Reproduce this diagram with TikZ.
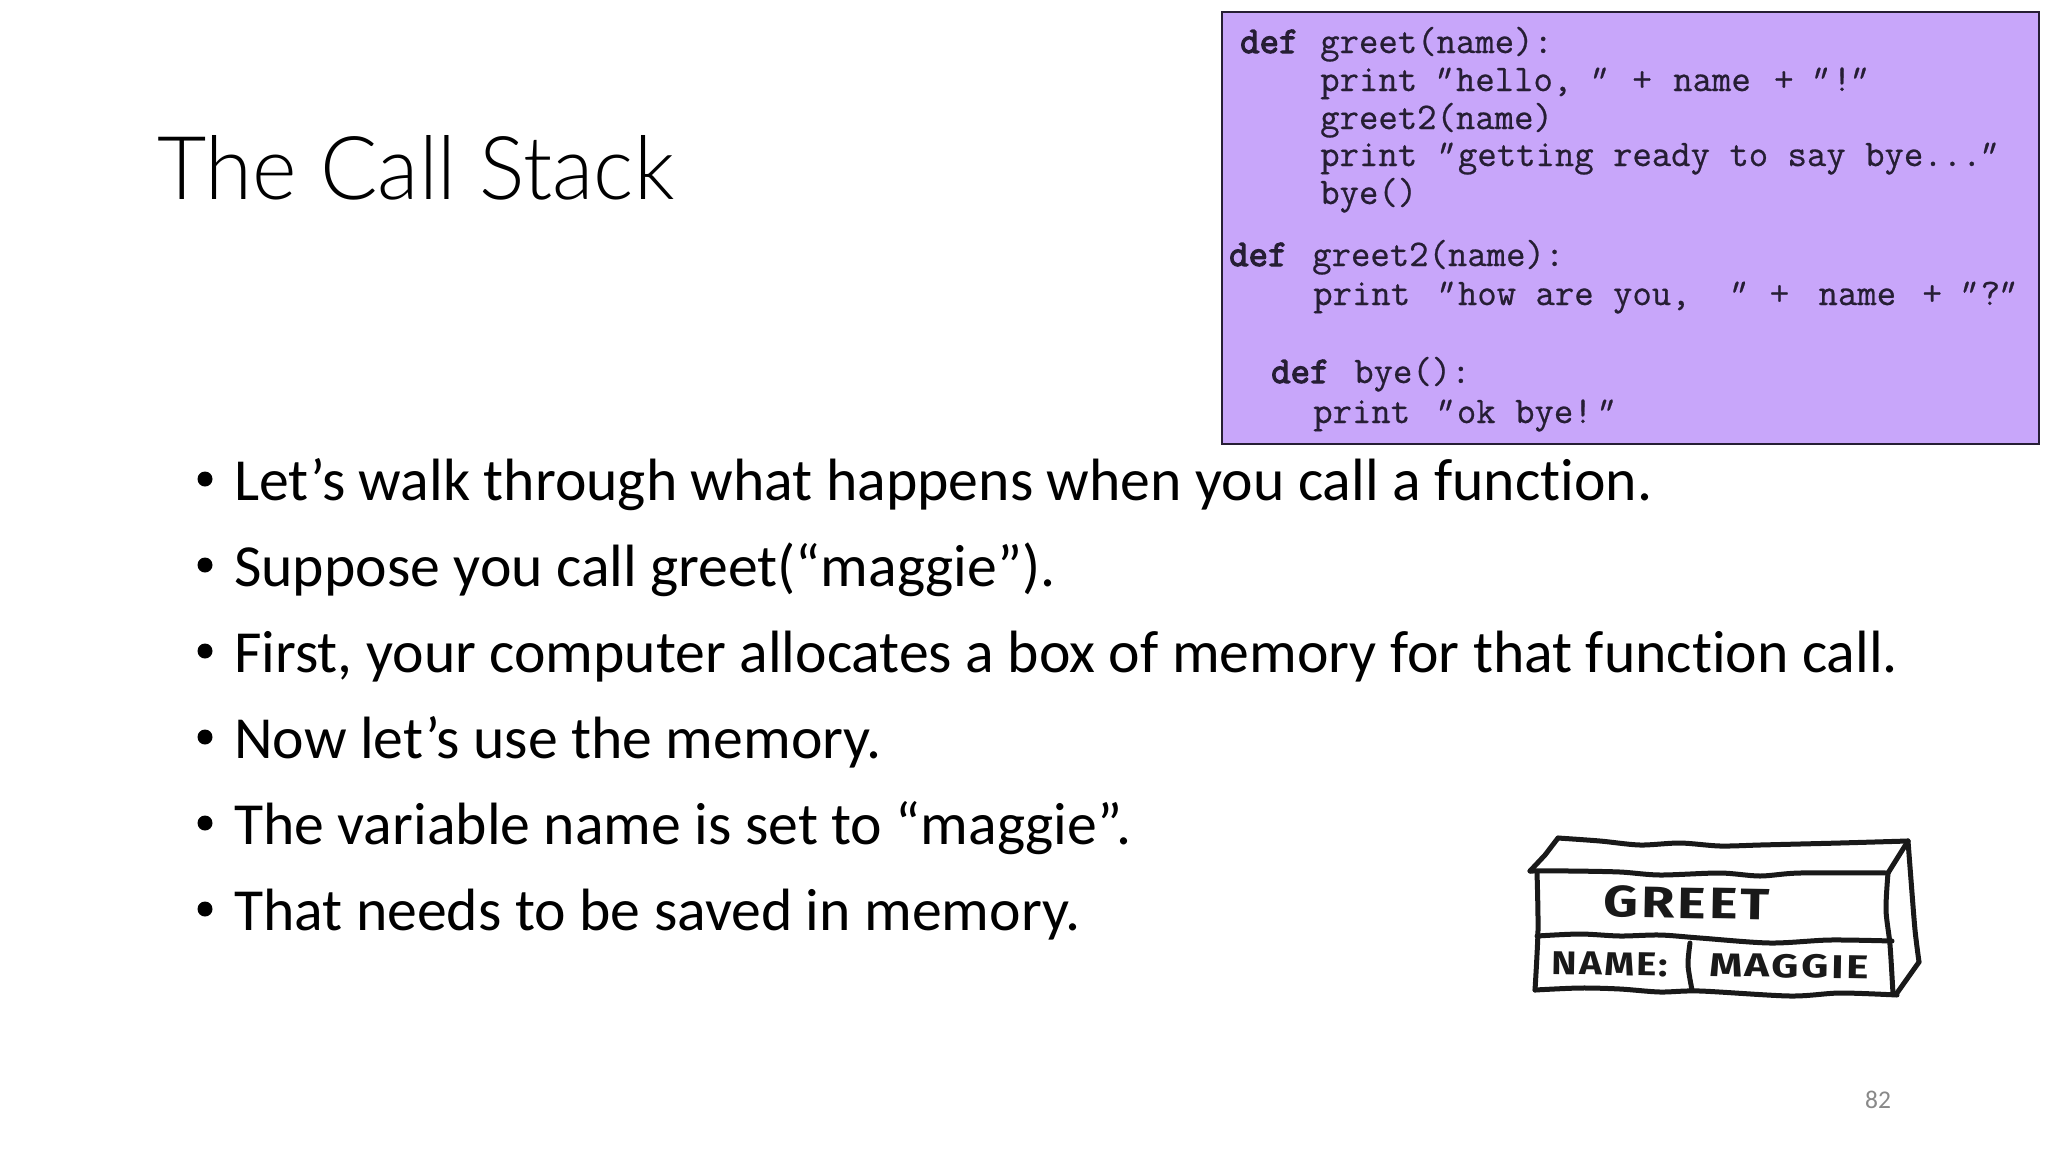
\documentclass[tikz,border=0pt]{standalone}
\usepackage{graphicx}
\usepackage{fontspec}
\setmainfont{Carlito}[Ligatures=NoCommon]
\newfontfamily\titlefont{Lato Light}
\newfontfamily\handfont[LetterSpace=6]{Fira Sans}
\newfontfamily\codefont[FakeBold=0.6]{Latin Modern Mono}
\newfontfamily\kwfont[FakeBold=3]{Latin Modern Mono}
\newfontfamily\qfont[FakeSlant=0.3,FakeBold=0.6]{Latin Modern Mono}
\newcommand{\ql}{\hspace{-7pt}{\qfont “}\hspace{7pt}}
\newcommand{\qr}{\hspace{-7pt}{\qfont ”}\hspace{7pt}}
\definecolor{codebg}{RGB}{200,166,250}
\definecolor{codeink}{RGB}{38,30,52}
\definecolor{pagenum}{RGB}{137,137,137}
\tikzset{
  x=1pt,y=-1pt,
  title/.style={anchor=base west,inner sep=0pt,font=\titlefont\fontsize{88}{110}\selectfont},
  bullet/.style={anchor=base west,inner sep=0pt,font=\fontsize{59.7}{70}\selectfont},
  bulletdot/.style={circle,fill=black,inner sep=0pt,minimum size=15pt},
  codebox/.style={draw=codeink,fill=codebg,line width=2pt},
  code/.style={anchor=base west,inner sep=0pt,text=codeink,font=\codefont\fontsize{37.65}{44}\selectfont},
  kw/.style={anchor=base west,inner sep=0pt,text=codeink,font=\kwfont\fontsize{37.65}{44}\selectfont},
  hand/.style={line width=5pt,line cap=round,line join=round,black!90},
  handtext/.style={inner sep=0pt,text=black!90},
  pagenumber/.style={anchor=base,inner sep=0pt,text=pagenum,font=\fontsize{25.5}{28}\selectfont}
}
\begin{document}
\begin{tikzpicture}
\useasboundingbox (0,0) rectangle (2048,1152);
\fill[white] (0,0) rectangle (2048,1152);
\node[title] (ttl) at (157,199) {\scalebox{.968}[1]{The Call Stack}};

\draw[codebox] (1222,12) rectangle (2039,444);
\node[kw]   (k1) at (1240,53)  {def};
\node[code] (c1) at (1320,53)  {greet(name):};
\node[code] (c2) at (1320,91)  {print \ql hello, \qr{} \hspace{2pt}+ \hspace{2pt}name\hspace{4pt} + \ql !\qr};
\node[code] (c3) at (1320,129) {greet2(name)};
\node[code] (c4) at (1320,166) {print \hspace{2pt}\ql getting ready to say bye...\qr};
\node[code] (c5) at (1320,204) {bye()};
\node[kw]   (k2) at (1229,266) {def};
\node[code] (c6) at (1312,266) {greet2(name):};
\node[code] (c7) at (1313,305) {print \hspace{9pt}\ql how are you,\hspace{21pt} \qr{} + \hspace{10pt}name\hspace{7pt} + \ql ?\qr};
\node[kw]   (k3) at (1271,383) {def};
\node[code] (c8) at (1354,383) {bye():};
\node[code] (c9) at (1313,423) {print \hspace{8pt}\ql ok bye!\hspace{6pt}\qr};

\foreach \yb/\txt in {500/{Let’s walk through what happens when you call a function.},
                      586/{Suppose you call greet(“maggie”).},
                      672/{First, your computer allocates a box of memory for that function call.},
                      758/{Now let’s use the memory.},
                      844/{The variable name is set to “maggie”.},
                      930/{That needs to be saved in memory.}}{
  \node[bullet] at (234,\yb) {\txt};
  \node[bulletdot] at (205,\yb-21) {};
}

% hand-drawn memory box
\draw[hand] (1530,871) -- (1545,855) -- (1558,838);
\draw[hand] plot[smooth,tension=.5] coordinates {(1558,838) (1600,841) (1640,845) (1680,843) (1720,846) (1760,845) (1800,844) (1840,843) (1908,841)};
\draw[hand] plot[smooth,tension=.5] coordinates {(1530,871) (1570,871) (1620,872) (1660,875) (1720,873) (1760,876) (1800,873) (1888,873)};
\draw[hand] (1888,873) -- (1908,841);
\draw[hand] plot[smooth,tension=.5] coordinates {(1908,841) (1911,880) (1915,930) (1919,962)};
\draw[hand] (1919,962) -- (1897,993);
\draw[hand] plot[smooth,tension=.5] coordinates {(1537,872) (1538,930) (1535,990)};
\draw[hand] plot[smooth,tension=.5] coordinates {(1888,873) (1886,910) (1890,945) (1893,994)};
\draw[hand] plot[smooth,tension=.5] coordinates {(1537,936) (1580,934) (1620,936) (1660,935) (1700,938) (1770,943) (1830,940) (1892,941)};
\draw[hand] plot[smooth,tension=.5] coordinates {(1535,990) (1580,988) (1620,989) (1660,992) (1700,991) (1790,996) (1840,993) (1897,995)};
\draw[hand] plot[smooth,tension=.5] coordinates {(1690,943) (1688,965) (1692,990)};
\node[handtext,font=\handfont\bfseries\fontsize{44}{48}\selectfont,rotate=-1] (gr) at (1687,903) {\scalebox{1.22}[1]{GREET}};
\node[handtext,font=\handfont\bfseries\fontsize{33}{36}\selectfont,rotate=-1] (nm) at (1610,964) {\scalebox{1.16}[1]{NAME:}};
\node[handtext,font=\handfont\bfseries\fontsize{33}{36}\selectfont,rotate=-1] (mg) at (1789,966) {\scalebox{1.28}[1]{MAGGIE}};

\node[pagenumber] (pg) at (1878,1108) {82};
\end{tikzpicture}
\end{document}
